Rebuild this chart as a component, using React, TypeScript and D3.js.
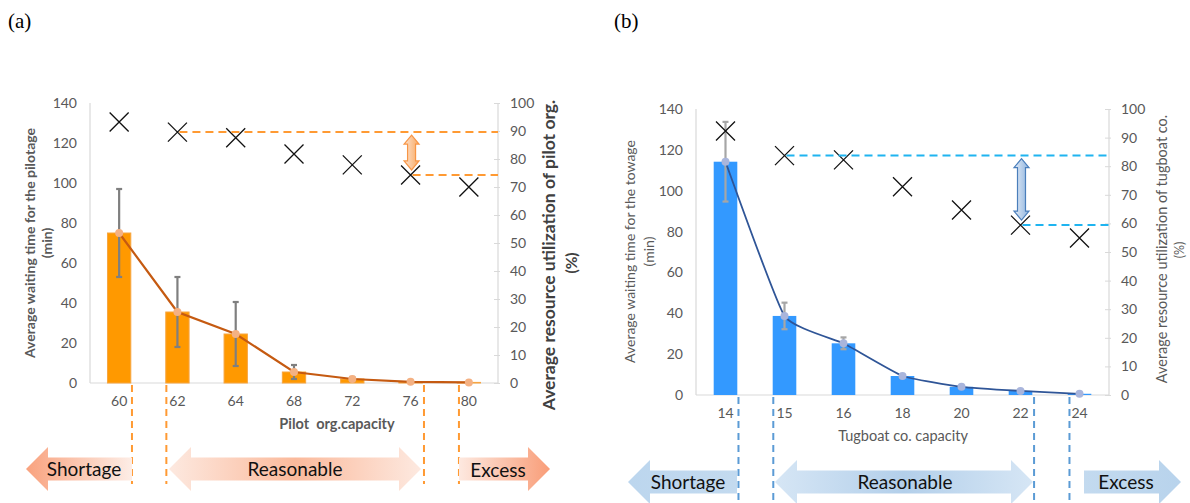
import { useEffect, useRef } from "react";
import * as d3 from "d3";

// pilot organisation (a)
const pilotCaps = ["60", "62", "64", "68", "72", "76", "80"];
const pilotWait = [75, 35.5, 24.5, 5.5, 2, 0.6, 0.3];
const pilotErr = [22, 17.5, 16, 3.5, 1, 0.3, 0.1];
const pilotUtil = [93.2, 89.6, 87.6, 81.8, 77.9, 74.3, 70.0];

// tugboat company (b)
const tugCaps = ["14", "15", "16", "18", "20", "22", "24"];
const tugWait = [114.2, 38.7, 25.3, 9.3, 4, 2, 0.6];
const tugErr = [19.5, 6.5, 2.9, 0.5, 0.3, 0.3, 0.2];
const tugUtil = [92.3, 83.7, 82.2, 72.8, 64.7, 59.4, 54.9];

const waitTicks = [0, 20, 40, 60, 80, 100, 120, 140];
const utilTicks = [0, 10, 20, 30, 40, 50, 60, 70, 80, 90, 100];

// zone boundaries, in category-index units
const zoneBounds = [0.22, 0.81, 5.23, 5.83];
const zoneNames = ["Shortage", "Reasonable", "Excess"];

const panels = [
  {
    id: "a", label: "(a)", labelX: 8,
    caps: pilotCaps, wait: pilotWait, err: pilotErr, util: pilotUtil,
    gapFrom: 1, gapTo: 5,
    left: 90, right: 498, top: 103, bottom: 383,
    bar: "#FF9900", barStroke: "#F7A541", line: "#C55A11", lineW: 2.2, marker: "#F4B183",
    errColor: "#7F7F7F", hDash: "#FF9A33", vDash: "#FF9A33", smooth: false,
    yTitle: ["Average waiting time for the pilotage", "(min)"], yTitleX: [30, 47], yTitleY: 243, yTitleSize: 14,
    rTitle: "Average resource utilization of pilot org.", rTitleX: 549, rTitleY: 255, rTitleSize: 17.5, rTitleColor: "#404040",
    rPctX: 572, rPctY: 263,
    titleW: "bold",
    xTitle: "Pilot  org.capacity", xTitleX: 337, xTitleY: 429,
    arrowY: 469, arrows: [[26, 132], [169, 421], [459, 550]], textX: [84, 295, 498], textY: [476, 476, 477],
    arrowFill: [
      [["0%", "#F9A27E"], ["100%", "#FDEDE6"]],
      [["0%", "#FDE9E0"], ["50%", "#FBBA9C"], ["100%", "#FDE9E0"]],
      [["0%", "#FDE9E0"], ["100%", "#F99D78"]],
    ],
    dArrowFill: [["0%", "#FDE3CF"], ["100%", "#F9A962"]], dArrowStroke: "#F79646",
    vDashBottom: 484,
  },
  {
    id: "b", label: "(b)", labelX: 614,
    caps: tugCaps, wait: tugWait, err: tugErr, util: tugUtil,
    gapFrom: 1, gapTo: 5,
    left: 696, right: 1109, top: 109, bottom: 395,
    bar: "#3399FF", barStroke: "none", line: "#2F5597", lineW: 1.8, marker: "#A9B5DC",
    errColor: "#A6A6A6", hDash: "#1FB4F0", vDash: "#5B9BD5", smooth: true,
    yTitle: ["Average waiting time for the towage", "(min)"], yTitleX: [630, 649], yTitleY: 251.5, yTitleSize: 14,
    rTitle: "Average resource utilization of tugboat co.", rTitleX: 1161.5, rTitleY: 249, rTitleSize: 14.5, rTitleColor: "#595959",
    rPctX: 1180, rPctY: 250,
    titleW: "normal",
    xTitle: "Tugboat co. capacity", xTitleX: 903, xTitleY: 441,
    arrowY: 482, arrows: [[628, 737], [775, 1033], [1084, 1181]], textX: [688, 905, 1126], textY: [489, 489, 489],
    arrowFill: [
      [["0%", "#BCD6EE"], ["100%", "#C3DAEF"]],
      [["0%", "#D6E6F5"], ["50%", "#B3CFEA"], ["100%", "#D6E6F5"]],
      [["0%", "#C3DAEF"], ["100%", "#B8D3EC"]],
    ],
    dArrowFill: [["0%", "#E3ECF7"], ["100%", "#8FB4DE"]], dArrowStroke: "#4A7EBB",
    vDashBottom: 503,
  },
];

function bigArrow(x0, x1, cy, kind) {
  const b = 11.5, h = 22, hl = 22;
  if (kind === 0)
    return `M${x0},${cy}L${x0 + hl},${cy - h}L${x0 + hl},${cy - b}L${x1},${cy - b}L${x1},${cy + b}L${x0 + hl},${cy + b}L${x0 + hl},${cy + h}Z`;
  if (kind === 2)
    return `M${x1},${cy}L${x1 - hl},${cy - h}L${x1 - hl},${cy - b}L${x0},${cy - b}L${x0},${cy + b}L${x1 - hl},${cy + b}L${x1 - hl},${cy + h}Z`;
  return `M${x0},${cy}L${x0 + hl},${cy - h}L${x0 + hl},${cy - b}L${x1 - hl},${cy - b}L${x1 - hl},${cy - h}L${x1},${cy}L${x1 - hl},${cy + h}L${x1 - hl},${cy + b}L${x0 + hl},${cy + b}L${x0 + hl},${cy + h}Z`;
}

function doubleArrow(c, y0, y1) {
  const bw = 4, hw = 7.5, hl = 9;
  return `M${c},${y0}L${c + hw},${y0 + hl}L${c + bw},${y0 + hl}L${c + bw},${y1 - hl}L${c + hw},${y1 - hl}L${c},${y1}L${c - hw},${y1 - hl}L${c - bw},${y1 - hl}L${c - bw},${y0 + hl}L${c - hw},${y0 + hl}Z`;
}

function addGradient(defs, id, stops) {
  const g = defs.append("linearGradient").attr("id", id).attr("x1", "0%").attr("x2", "100%").attr("y1", "0%").attr("y2", "0%");
  stops.forEach(([o, c]) => g.append("stop").attr("offset", o).attr("stop-color", c));
}

function drawPanel(svg, defs, p) {
  const x = d3.scaleBand().domain(p.caps).range([p.left, p.right]).paddingInner(0.6).paddingOuter(0.3);
  const idx = d3.scaleLinear().domain([-0.5, p.caps.length - 0.5]).range([p.left, p.right]);
  const yL = d3.scaleLinear().domain([0, 140]).range([p.bottom, p.top]);
  const yR = d3.scaleLinear().domain([0, 100]).range([p.bottom, p.top]);
  const cx = (c) => x(c) + x.bandwidth() / 2;
  const g = svg.append("g");

  // panel label
  svg.append("text").attr("x", p.labelX).attr("y", 28).attr("font-family", "'Liberation Serif', serif")
    .attr("font-size", 21).attr("fill", "#000").text(p.label);

  // axis lines
  g.append("line").attr("x1", p.left).attr("x2", p.right).attr("y1", p.bottom).attr("y2", p.bottom).attr("stroke", "#D9D9D9").attr("stroke-width", 1.2);
  g.append("line").attr("x1", p.left).attr("x2", p.left).attr("y1", p.top).attr("y2", p.bottom).attr("stroke", "#D9D9D9").attr("stroke-width", 1.2);

  g.append("g").attr("transform", `translate(${p.left},0)`)
    .call(d3.axisLeft(yL).tickValues(waitTicks).tickSize(0).tickPadding(13))
    .call((a) => a.select(".domain").remove())
    .call((a) => a.selectAll("text").attr("font-size", 14).attr("font-family", "Lato").attr("fill", "#595959"));

  g.append("g").attr("transform", `translate(${p.right},0)`)
    .call(d3.axisRight(yR).tickValues(utilTicks).tickSize(4).tickPadding(8))
    .call((a) => a.select(".domain").attr("stroke", "#D9D9D9").attr("stroke-width", 1.2).attr("d", `M0,${p.top}V${p.bottom}`))
    .call((a) => a.selectAll("line").attr("stroke", "#D9D9D9").attr("x1", -4).attr("x2", 2))
    .call((a) => a.selectAll("text").attr("font-size", 14).attr("font-family", "Lato").attr("fill", "#595959"));

  g.append("g").attr("transform", `translate(0,${p.bottom})`)
    .call(d3.axisBottom(x).tickSize(0).tickPadding(13))
    .call((a) => a.select(".domain").remove())
    .call((a) => a.selectAll("text").attr("font-size", 14).attr("font-family", "Lato").attr("fill", "#595959"));

  // bars
  g.selectAll(".bar").data(p.wait).join("rect")
    .attr("x", (d, i) => x(p.caps[i]))
    .attr("width", x.bandwidth())
    .attr("y", (d) => yL(d))
    .attr("height", (d) => yL(0) - yL(d))
    .attr("fill", p.bar)
    .attr("stroke", p.barStroke)
    .attr("stroke-width", 1);

  // error bars
  p.wait.forEach((d, i) => {
    const c = cx(p.caps[i]);
    const e = g.append("g").attr("stroke", p.errColor).attr("stroke-width", 2.2);
    e.append("line").attr("x1", c).attr("x2", c).attr("y1", yL(d + p.err[i])).attr("y2", yL(d - p.err[i]));
    e.append("line").attr("x1", c - 3).attr("x2", c + 3).attr("y1", yL(d + p.err[i])).attr("y2", yL(d + p.err[i]));
    e.append("line").attr("x1", c - 3).attr("x2", c + 3).attr("y1", yL(d - p.err[i])).attr("y2", yL(d - p.err[i]));
  });

  // waiting-time line
  const line = d3.line().x((d, i) => cx(p.caps[i])).y((d) => yL(d));
  if (p.smooth) line.curve(d3.curveCardinal.tension(0.6));
  g.append("path").datum(p.wait).attr("d", line).attr("fill", "none").attr("stroke", p.line).attr("stroke-width", p.lineW);
  g.selectAll(".mk").data(p.wait).join("circle")
    .attr("cx", (d, i) => cx(p.caps[i])).attr("cy", (d) => yL(d)).attr("r", 4).attr("fill", p.marker);

  // utilization X markers
  g.selectAll(".ux").data(p.util).join("path")
    .attr("transform", (d, i) => `translate(${cx(p.caps[i])},${yR(d)})`)
    .attr("d", "M-9.5,-9.5L9.5,9.5M-9.5,9.5L9.5,-9.5")
    .attr("stroke", "#111").attr("stroke-width", 1.3).attr("fill", "none");

  // horizontal reference lines
  const uHi = p.util[p.gapFrom], uLo = p.util[p.gapTo];
  g.append("line").attr("x1", cx(p.caps[p.gapFrom]) + 2).attr("x2", p.right).attr("y1", yR(uHi)).attr("y2", yR(uHi))
    .attr("stroke", p.hDash).attr("stroke-width", 2).attr("stroke-dasharray", "8,5");
  g.append("line").attr("x1", cx(p.caps[p.gapTo]) + 2).attr("x2", p.right).attr("y1", yR(uLo)).attr("y2", yR(uLo))
    .attr("stroke", p.hDash).attr("stroke-width", 2).attr("stroke-dasharray", "8,5");

  addGradient(defs, `da-${p.id}`, p.dArrowFill);
  g.append("path").attr("d", doubleArrow(cx(p.caps[p.gapTo]) + 1, yR(uHi) + 3, yR(uLo) - 5))
    .attr("fill", `url(#da-${p.id})`).attr("stroke", p.dArrowStroke).attr("stroke-width", 1.2);

  // zone dividers
  zoneBounds.forEach((b) => {
    g.append("line").attr("x1", idx(b)).attr("x2", idx(b)).attr("y1", p.bottom + 2).attr("y2", p.vDashBottom)
      .attr("stroke", p.vDash).attr("stroke-width", 2).attr("stroke-dasharray", "7,5");
  });

  // axis titles
  p.yTitle.forEach((t, i) => {
    g.append("text").attr("transform", `translate(${p.yTitleX[i]},${p.yTitleY}) rotate(-90)`)
      .attr("text-anchor", "middle").attr("dy", "0.35em").attr("font-family", "Lato").attr("font-weight", p.titleW)
      .attr("font-size", p.yTitleSize).attr("fill", "#595959").text(t);
  });
  g.append("text").attr("transform", `translate(${p.rTitleX},${p.rTitleY}) rotate(-90)`)
    .attr("text-anchor", "middle").attr("dy", "0.35em").attr("font-family", "Lato").attr("font-weight", p.titleW)
    .attr("font-size", p.rTitleSize).attr("fill", p.rTitleColor).text(p.rTitle);
  g.append("text").attr("transform", `translate(${p.rPctX},${p.rPctY}) rotate(-90)`)
    .attr("text-anchor", "middle").attr("dy", "0.35em").attr("font-family", "Lato").attr("font-weight", p.titleW)
    .attr("font-size", p.rTitleSize - 2).attr("fill", p.rTitleColor).text("(%)");
  g.append("text").attr("x", p.xTitleX).attr("y", p.xTitleY).attr("text-anchor", "middle")
    .style("white-space", "pre")
    .attr("font-family", "Lato").attr("font-weight", p.titleW).attr("font-size", 14.5).attr("fill", "#595959").text(p.xTitle);

  // zone arrows
  p.arrows.forEach(([a0, a1], k) => {
    addGradient(defs, `za-${p.id}-${k}`, p.arrowFill[k]);
    g.append("path").attr("d", bigArrow(a0, a1, p.arrowY, k)).attr("fill", `url(#za-${p.id}-${k})`);
    g.append("text").attr("x", p.textX[k]).attr("y", p.textY[k]).attr("text-anchor", "middle")
      .attr("font-family", "Lato").attr("font-size", 19).attr("fill", "#111").text(zoneNames[k]);
  });
}

export default function App() {
  const svgRef = useRef(null);

  useEffect(() => {
    const svg = d3.select(svgRef.current);
    svg.selectAll("*").remove();
    const defs = svg.append("defs");
    panels.forEach((p) => drawPanel(svg, defs, p));
  }, []);

  return (
    <svg
      ref={svgRef}
      width={1190}
      height={503}
      style={{ position: "absolute", left: 0, top: 0, background: "#fff", display: "block" }}
    />
  );
}
